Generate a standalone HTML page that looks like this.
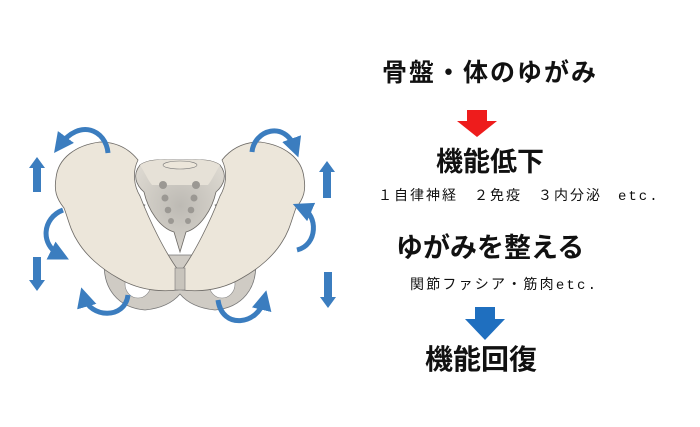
<!DOCTYPE html>
<html><head><meta charset="utf-8"><style>
html,body{margin:0;padding:0;background:#fff;}
.w{position:relative;width:700px;height:427px;overflow:hidden;font-family:"Liberation Sans","Noto Sans CJK JP",sans-serif;color:#111;}
.t{position:absolute;white-space:nowrap;line-height:1;}
.b{font-weight:bold;font-size:26px;}
.s{font-size:14px;}
.m{font-family:"Liberation Mono",monospace;}
svg{position:absolute;left:0;top:0;}
</style></head><body><div class="w">
<svg width="700" height="427" viewBox="0 0 700 427">
<defs>
<marker id="ah" markerWidth="4" markerHeight="4" refX="2" refY="2" orient="auto" markerUnits="strokeWidth"><path d="M0,0 L4,2 L0,4z" fill="#3b7dbf"/></marker>
<radialGradient id="sg" cx="0.5" cy="0.5" r="0.6"><stop offset="0" stop-color="#bdbab4"/><stop offset="1" stop-color="#dcd8d0"/></radialGradient>
</defs>
<path d="M105,255 C100,290 120,308 145,310 C165,308 175,300 180,294 C185,300 195,308 215,310 C240,308 260,290 255,255 Z" fill="#cfcbc4" stroke="#777" stroke-width="0.8"/>
<ellipse cx="138" cy="284" rx="13" ry="14" fill="#fff" stroke="#888" stroke-width="0.6"/>
<ellipse cx="222" cy="284" rx="13" ry="14" fill="#fff" stroke="#888" stroke-width="0.6"/>
<path d="M125,200 C110,230 120,260 150,270 L160,268 C135,255 130,225 145,205 Z" fill="#d5d1ca" stroke="#777" stroke-width="0.7"/>
<path d="M235,200 C250,230 240,260 210,270 L200,268 C225,255 230,225 215,205 Z" fill="#d5d1ca" stroke="#777" stroke-width="0.7"/>
<path d="M56,178 C58,158 76,145 100,142 C118,142 130,150 138,160 C132,172 134,186 140,196 C150,222 165,252 178,270 L178,290 C160,292 138,290 118,278 C100,268 86,255 78,242 C70,230 68,218 64,208 C56,198 54,190 56,178 Z" fill="#ece6da" stroke="#6d6a66" stroke-width="0.8"/>
<path d="M304,178 C302,158 284,145 260,142 C242,142 230,150 222,160 C228,172 226,186 220,196 C210,222 195,252 182,270 L182,290 C200,292 222,290 242,278 C260,268 274,255 282,242 C290,230 292,218 296,208 C304,198 306,190 304,178 Z" fill="#ece6da" stroke="#6d6a66" stroke-width="0.8"/>
<rect x="175" y="268" width="10" height="22" fill="#c8c4bc" stroke="#777" stroke-width="0.6"/>
<path d="M140,165 C150,158 165,160 180,160 C195,160 210,158 220,165 C228,175 224,185 216,192 C212,210 200,228 186,232 L180,252 L174,232 C160,228 148,210 144,192 C136,185 132,175 140,165 Z" fill="url(#sg)" stroke="#6d6a66" stroke-width="0.8"/>
<path d="M140,165 C150,158 165,160 180,160 C195,160 210,158 220,165 C214,175 212,180 208,185 L152,185 C148,180 146,175 140,165Z" fill="#e6e1d7"/>
<ellipse cx="180" cy="165" rx="17" ry="4" fill="#ece6da" stroke="#777" stroke-width="0.6"/>
<g fill="#9b9893"><circle cx="163" cy="185" r="4"/><circle cx="196" cy="185" r="4"/><circle cx="165" cy="198" r="3.5"/><circle cx="194" cy="198" r="3.5"/><circle cx="168" cy="210" r="3.3"/><circle cx="191" cy="210" r="3.3"/><circle cx="171" cy="221" r="3"/><circle cx="188" cy="221" r="3"/></g>
<g fill="#3b7dbf">
<path d="M33,192 V168 H29 L37,157 L45,168 H41 V192Z"/>
<path d="M33,257 V280 H29 L37,291 L45,280 H41 V257Z"/>
<path d="M323,198 V172 H319 L327,161 L335,172 H331 V198Z"/>
<path d="M324,272 V297 H320 L328,308 L336,297 H332 V272Z"/>
</g>
<g fill="none" stroke="#3b7dbf" stroke-width="5">
<path d="M108,153 C106,130 80,118 60,145" marker-end="url(#ah)"/>
<path d="M252,152 C254,130 285,120 295,148" marker-end="url(#ah)"/>
<path d="M63,210 C42,218 40,245 60,255" marker-end="url(#ah)"/>
<path d="M297,250 C318,245 318,215 302,208" marker-end="url(#ah)"/>
<path d="M128,295 C125,320 90,318 84,297" marker-end="url(#ah)"/>
<path d="M218,300 C222,330 258,325 264,300" marker-end="url(#ah)"/>
</g>
<path d="M467,110 H487 V121 H497 L477,137 L457,121 H467Z" fill="#ee1c1c"/>
<path d="M475,307 H495 V319 H505 L485,340 L465,319 H475Z" fill="#1f6fbf"/>
</svg>
<div class="t b" style="left:382px;top:61px;font-size:25px;letter-spacing:2px">骨盤・体のゆがみ</div>
<div class="t b" style="left:436px;top:149px;font-size:27px">機能低下</div>
<div class="t s" style="left:378px;top:188px;letter-spacing:2px">１自律神経　２免疫　３内分泌　<span class="m">etc.</span></div>
<div class="t b" style="left:396px;top:235px;font-size:27px">ゆがみを整える</div>
<div class="t s" style="left:410px;top:277px;letter-spacing:2.2px">関節ファシア・筋肉<span class="m">etc.</span></div>
<div class="t b" style="left:425px;top:346px;font-size:28px">機能回復</div>
</div></body></html>
